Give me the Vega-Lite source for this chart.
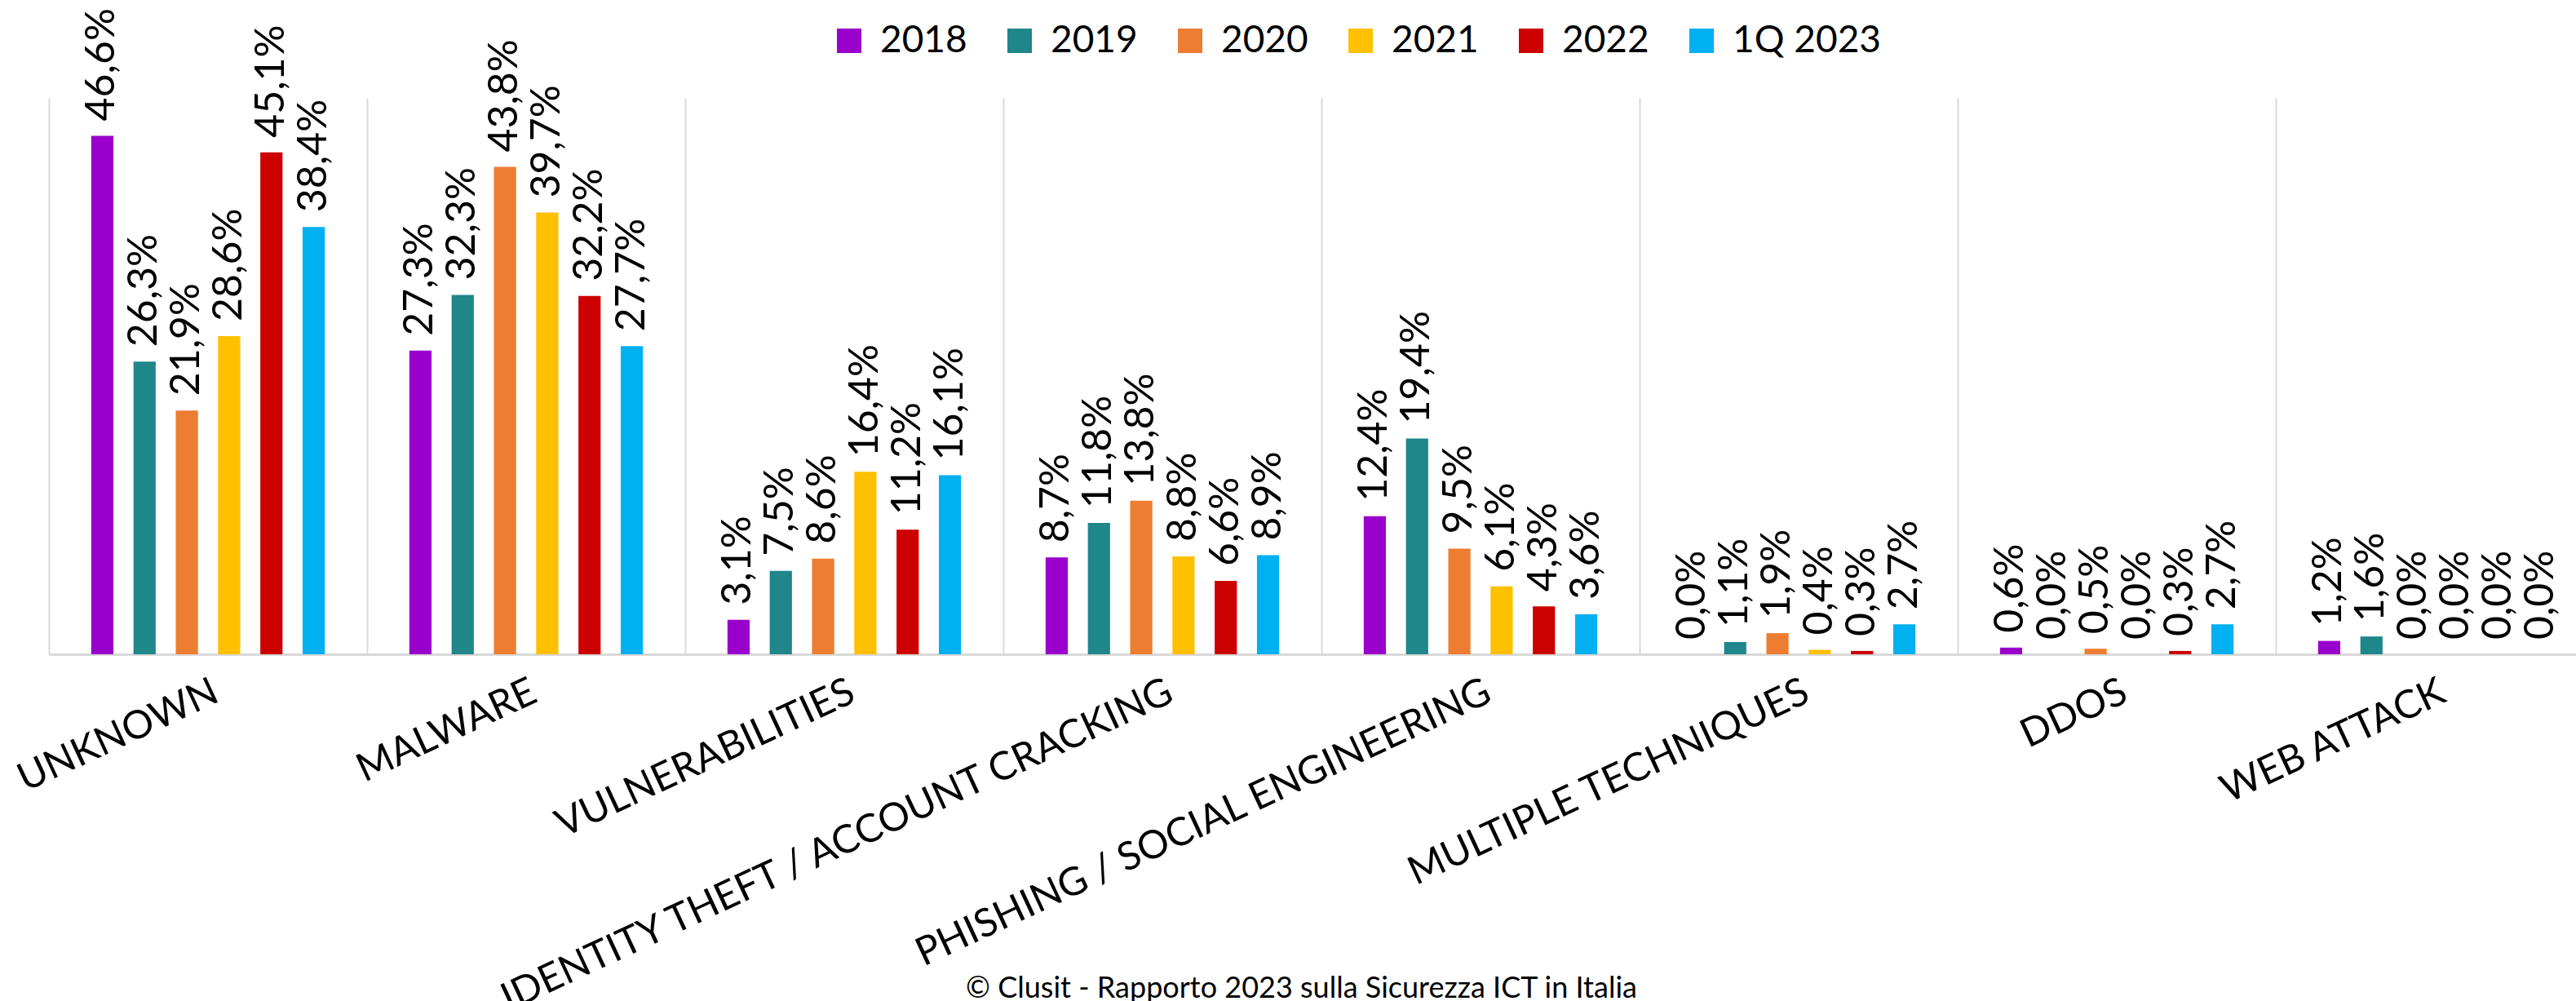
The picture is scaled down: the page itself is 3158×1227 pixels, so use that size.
{
  "$schema": "https://vega.github.io/schema/vega-lite/v6.json",
  "autosize": {"type": "none"},
  "width": 3098,
  "height": 682,
  "padding": {"left": 60, "top": 120, "right": 0, "bottom": 425},
  "background": "white",
  "config": {
    "view": {"stroke": null},
    "locale": {"number": {"decimal": ",", "thousands": ".", "grouping": [3], "currency": ["€", ""]}}
  },
  "data": {
    "values": [
      {"category": "UNKNOWN", "year": "2018", "value": 0.466},
      {"category": "UNKNOWN", "year": "2019", "value": 0.263},
      {"category": "UNKNOWN", "year": "2020", "value": 0.219},
      {"category": "UNKNOWN", "year": "2021", "value": 0.286},
      {"category": "UNKNOWN", "year": "2022", "value": 0.451},
      {"category": "UNKNOWN", "year": "1Q 2023", "value": 0.384},
      {"category": "MALWARE", "year": "2018", "value": 0.273},
      {"category": "MALWARE", "year": "2019", "value": 0.323},
      {"category": "MALWARE", "year": "2020", "value": 0.438},
      {"category": "MALWARE", "year": "2021", "value": 0.397},
      {"category": "MALWARE", "year": "2022", "value": 0.322},
      {"category": "MALWARE", "year": "1Q 2023", "value": 0.277},
      {"category": "VULNERABILITIES", "year": "2018", "value": 0.031},
      {"category": "VULNERABILITIES", "year": "2019", "value": 0.075},
      {"category": "VULNERABILITIES", "year": "2020", "value": 0.086},
      {"category": "VULNERABILITIES", "year": "2021", "value": 0.164},
      {"category": "VULNERABILITIES", "year": "2022", "value": 0.112},
      {"category": "VULNERABILITIES", "year": "1Q 2023", "value": 0.161},
      {"category": "IDENTITY THEFT / ACCOUNT CRACKING", "year": "2018", "value": 0.087},
      {"category": "IDENTITY THEFT / ACCOUNT CRACKING", "year": "2019", "value": 0.118},
      {"category": "IDENTITY THEFT / ACCOUNT CRACKING", "year": "2020", "value": 0.138},
      {"category": "IDENTITY THEFT / ACCOUNT CRACKING", "year": "2021", "value": 0.088},
      {"category": "IDENTITY THEFT / ACCOUNT CRACKING", "year": "2022", "value": 0.066},
      {"category": "IDENTITY THEFT / ACCOUNT CRACKING", "year": "1Q 2023", "value": 0.089},
      {"category": "PHISHING / SOCIAL ENGINEERING", "year": "2018", "value": 0.124},
      {"category": "PHISHING / SOCIAL ENGINEERING", "year": "2019", "value": 0.194},
      {"category": "PHISHING / SOCIAL ENGINEERING", "year": "2020", "value": 0.095},
      {"category": "PHISHING / SOCIAL ENGINEERING", "year": "2021", "value": 0.061},
      {"category": "PHISHING / SOCIAL ENGINEERING", "year": "2022", "value": 0.043},
      {"category": "PHISHING / SOCIAL ENGINEERING", "year": "1Q 2023", "value": 0.036},
      {"category": "MULTIPLE TECHNIQUES", "year": "2018", "value": 0.0},
      {"category": "MULTIPLE TECHNIQUES", "year": "2019", "value": 0.011},
      {"category": "MULTIPLE TECHNIQUES", "year": "2020", "value": 0.019},
      {"category": "MULTIPLE TECHNIQUES", "year": "2021", "value": 0.004},
      {"category": "MULTIPLE TECHNIQUES", "year": "2022", "value": 0.003},
      {"category": "MULTIPLE TECHNIQUES", "year": "1Q 2023", "value": 0.027},
      {"category": "DDOS", "year": "2018", "value": 0.006},
      {"category": "DDOS", "year": "2019", "value": 0.0},
      {"category": "DDOS", "year": "2020", "value": 0.005},
      {"category": "DDOS", "year": "2021", "value": 0.0},
      {"category": "DDOS", "year": "2022", "value": 0.003},
      {"category": "DDOS", "year": "1Q 2023", "value": 0.027},
      {"category": "WEB ATTACK", "year": "2018", "value": 0.012},
      {"category": "WEB ATTACK", "year": "2019", "value": 0.016},
      {"category": "WEB ATTACK", "year": "2020", "value": 0.0},
      {"category": "WEB ATTACK", "year": "2021", "value": 0.0},
      {"category": "WEB ATTACK", "year": "2022", "value": 0.0},
      {"category": "WEB ATTACK", "year": "1Q 2023", "value": 0.0}
    ]
  },
  "encoding": {
    "x": {
      "field": "category",
      "type": "nominal",
      "sort": null,
      "scale": {"range": [0, 3120], "paddingInner": 0, "paddingOuter": 0},
      "axis": {
        "title": "© Clusit - Rapporto 2023 sulla Sicurezza ICT in Italia",
        "titleFont": "Lato",
        "titleFontSize": 36,
        "titleFontWeight": "normal",
        "titleColor": "#000000",
        "titleX": 1535,
        "titleY": 420,
        "titleAlign": "center",
        "titleBaseline": "alphabetic",
        "bandPosition": 0,
        "grid": true,
        "gridColor": "#d9d9d9",
        "gridWidth": 2,
        "domainColor": "#d9d9d9",
        "domainWidth": 3,
        "ticks": false,
        "labelAngle": -25,
        "labelAlign": "right",
        "labelBaseline": "top",
        "labelPadding": 22,
        "labelFont": "Lato",
        "labelFontSize": 48,
        "labelColor": "#000000",
        "labelLimit": 0,
        "labelOverlap": false
      }
    },
    "xOffset": {
      "field": "year",
      "type": "nominal",
      "sort": ["2018", "2019", "2020", "2021", "2022", "1Q 2023"],
      "scale": {"paddingInner": 0.475, "paddingOuter": 1.18}
    },
    "y": {
      "field": "value",
      "type": "quantitative",
      "scale": {"domain": [0, 0.5], "nice": false},
      "axis": null
    }
  },
  "layer": [
    {
      "mark": {"type": "bar"},
      "encoding": {
        "color": {
          "field": "year",
          "type": "nominal",
          "sort": ["2018", "2019", "2020", "2021", "2022", "1Q 2023"],
          "scale": {
            "domain": ["2018", "2019", "2020", "2021", "2022", "1Q 2023"],
            "range": ["#9900CC", "#1F868A", "#ED7D31", "#FFC000", "#CC0000", "#00B0F0"]
          },
          "legend": {
            "title": null,
            "orient": "none",
            "direction": "horizontal",
            "legendX": 958,
            "legendY": -93,
            "padding": 0,
            "symbolType": "square",
            "symbolSize": 900,
            "symbolStrokeWidth": 0,
            "symbolOpacity": 1,
            "labelFont": "Lato",
            "labelFontSize": 46,
            "labelColor": "#000000",
            "labelOffset": 15,
            "columnPadding": 41,
            "labelLimit": 0
          }
        }
      }
    },
    {
      "mark": {
        "type": "text",
        "angle": 270,
        "align": "left",
        "baseline": "middle",
        "dx": 18,
        "font": "Lato",
        "fontSize": 50,
        "color": "#000000"
      },
      "encoding": {
        "text": {"field": "value", "type": "quantitative", "format": ".1%"}
      }
    }
  ]
}
